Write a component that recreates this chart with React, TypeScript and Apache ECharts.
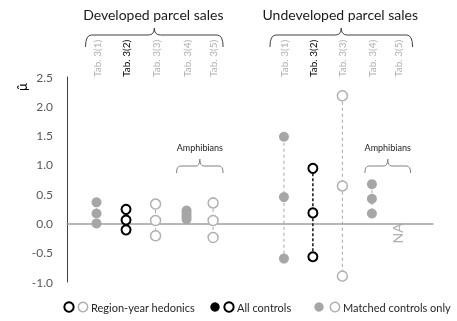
import React, { useEffect, useRef } from "react";
import * as echarts from "echarts";

const tabLabels = ["Tab. 3(1)", "Tab. 3(2)", "Tab. 3(3)", "Tab. 3(4)", "Tab. 3(5)"];
const groupTitles = ["Developed parcel sales", "Undeveloped parcel sales"];
const devX = [1, 2, 3, 4.05, 4.95];
const undevX = [7.35, 8.33, 9.33, 10.33, 11.2];
// estimates per column (null = NA)
const devValues: (number[] | null)[] = [
  [0.36, 0.17, 0.0],
  [0.24, 0.06, -0.11],
  [0.33, 0.05, -0.21],
  [0.22, 0.17, 0.12, 0.07],
  [0.35, 0.05, -0.24],
];
const undevValues: (number[] | null)[] = [
  [1.48, 0.45, -0.6],
  [0.94, 0.18, -0.57],
  [2.18, 0.64, -0.9],
  [0.67, 0.42, 0.17],
  null,
];
// which controls: "all" (black) or "matched" (gray); hedonics = open circle
const controls = ["matched", "all", "matched", "matched", "matched"];
const hedonics = [false, true, true, false, true];
const naValue = -0.17;
const yTicks = { min: -1, max: 2.5, interval: 0.5 };
const legendItems = [
  { text: "Region-year hedonics", marks: ["blackOpen", "grayOpen"] },
  { text: "All controls", marks: ["blackFilled", "blackOpen"] },
  { text: "Matched controls only", marks: ["grayFilled", "grayOpen"] },
];

const GRAY = "#a6a6a6";
const FONT = "Lato, 'Noto Sans', sans-serif";

function colSeries(x: number, vals: number[], i: number) {
  const black = controls[i] === "all";
  const open = hedonics[i];
  const col = black ? "#000" : GRAY;
  return {
    type: "line",
    data: vals.map((v) => [x, v]),
    symbol: "circle",
    symbolSize: black ? 9 : 10,
    z: 3,
    itemStyle: open
      ? { color: "#fff", borderColor: black ? "#000" : "#b0b0b0", borderWidth: black ? 2 : 1.5 }
      : { color: col, borderWidth: 0 },
    lineStyle: { color: black ? "#222" : GRAY, width: black ? 1.6 : 1, type: black ? [3, 2] : [3, 3] },
  };
}

function brace(x1: number, x2: number, yh: number, yEnd: number, yPeak: number, color: string, r: number) {
  const xm = (x1 + x2) / 2;
  const st = { stroke: color, lineWidth: 1, fill: null as any };
  return [
    { type: "bezierCurve", shape: { x1: x1, y1: yEnd, x2: x1 + r, y2: yh, cpx1: x1, cpy1: yh }, style: st },
    { type: "line", shape: { x1: x1 + r, y1: yh, x2: xm - r, y2: yh }, style: st },
    { type: "bezierCurve", shape: { x1: xm - r, y1: yh, x2: xm, y2: yPeak, cpx1: xm, cpy1: yh }, style: st },
    { type: "bezierCurve", shape: { x1: xm + r, y1: yh, x2: xm, y2: yPeak, cpx1: xm, cpy1: yh }, style: st },
    { type: "line", shape: { x1: xm + r, y1: yh, x2: x2 - r, y2: yh }, style: st },
    { type: "bezierCurve", shape: { x1: x2, y1: yEnd, x2: x2 - r, y2: yh, cpx1: x2, cpy1: yh }, style: st },
  ];
}

function legendMark(kind: string, x: number, y: number) {
  const black = kind.startsWith("black");
  const open = kind.endsWith("Open");
  return {
    type: "circle",
    shape: { cx: x, cy: y, r: 4.7 },
    style: open
      ? { fill: "#fff", stroke: black ? "#000" : "#b0b0b0", lineWidth: black ? 2 : 1.5 }
      : { fill: black ? "#000" : GRAY, stroke: null },
  };
}

export default function App() {
  const ref = useRef<HTMLDivElement>(null);
  useEffect(() => {
    const chart = echarts.init(ref.current!, null, { renderer: "svg" });
    const series: any[] = [];
    devValues.forEach((v, i) => v && series.push(colSeries(devX[i], v, i)));
    undevValues.forEach((v, i) => v && series.push(colSeries(undevX[i], v, i)));
    chart.setOption({
      animation: false,
      grid: { left: 67, right: 24, top: 77, bottom: 39 },
      xAxis: {
        type: "value",
        min: 0,
        max: 12.4,
        axisLine: { show: true, onZero: true, lineStyle: { color: "#a0a0a0", width: 1.5 } },
        axisTick: { show: false },
        axisLabel: { show: false },
        splitLine: { show: false },
      },
      yAxis: {
        type: "value",
        min: yTicks.min,
        max: yTicks.max,
        interval: yTicks.interval,
        axisLine: { show: true, onZero: false, lineStyle: { color: "#404040", width: 1 } },
        axisTick: { show: false },
        splitLine: { show: false },
        axisLabel: {
          formatter: (v: number) => v.toFixed(1),
          color: "#595959",
          fontSize: 12,
          fontFamily: FONT,
          margin: 14,
        },
      },
      series,
    });

    const px = (x: number, y: number) => chart.convertToPixel({ gridIndex: 0 }, [x, y]) as number[];
    const g: any[] = [];
    const groups = [devX, undevX];
    groups.forEach((xs, gi) => {
      const left = px(xs[0], 0)[0] - (gi === 0 ? 11 : 14);
      const right = px(xs[4], 0)[0] + (gi === 0 ? 10 : 15);
      const mid = (left + right) / 2;
      g.push({
        type: "text",
        style: { text: groupTitles[gi], x: mid - 1, y: 14, align: "center", verticalAlign: "middle", fill: "#1a1a1a", font: `14px ${FONT}` },
      });
      g.push(...brace(left, right, 35, 47, 28, "#404040", 6));
      xs.forEach((x, i) => {
        const p = px(x, 0);
        g.push({
          type: "text",
          x: p[0],
          y: 77,
          rotation: Math.PI / 2,
          style: {
            text: tabLabels[i],
            x: 0,
            y: 0,
            align: "left",
            verticalAlign: "middle",
            fill: controls[i] === "all" ? "#000" : "#b0b0b0",
            font: `10px ${FONT}`,
          },
        });
      });
      // amphibians brace over columns 4-5
      const al = px(xs[3], 0)[0] - (gi === 0 ? 10 : 7);
      const ar = px(xs[4], 0)[0] + (gi === 0 ? 10 : 13);
      g.push(...brace(al, ar, 166, 173, 159, "#808080", 4));
      g.push({
        type: "text",
        style: { text: "Amphibians", x: (al + ar) / 2, y: 147, align: "center", verticalAlign: "middle", fill: "#1a1a1a", font: `9px ${FONT}` },
      });
    });
    // NA marker
    const naP = px(undevX[4], naValue);
    g.push({
      type: "text",
      x: naP[0],
      y: naP[1],
      rotation: Math.PI / 2,
      style: { text: "NA", x: 0, y: 0, align: "center", verticalAlign: "middle", fill: "#b0b0b0", font: `14px ${FONT}` },
    });
    // y axis name
    g.push({
      type: "text",
      x: 22,
      y: 87,
      rotation: Math.PI / 2,
      style: { text: "\u03bc\u0302", x: 0, y: 0, align: "center", verticalAlign: "middle", fill: "#000", font: `13px ${FONT}` },
    });
    // legend
    const legendPos = [
      { m: [69, 83], t: 91 },
      { m: [215, 229], t: 237 },
      { m: [319, 335], t: 343 },
    ];
    legendItems.forEach((it, i) => {
      const lp = legendPos[i];
      it.marks.forEach((k, j) => g.push(legendMark(k, lp.m[j], 307)));
      g.push({
        type: "text",
        style: { text: it.text, x: lp.t, y: 307, align: "left", verticalAlign: "middle", fill: "#262626", font: `11px ${FONT}` },
      });
    });
    chart.setOption({ graphic: g });
    return () => chart.dispose();
  }, []);
  return <div ref={ref} style={{ position: "fixed", left: 0, top: 0, width: 457, height: 321 }} />;
}
